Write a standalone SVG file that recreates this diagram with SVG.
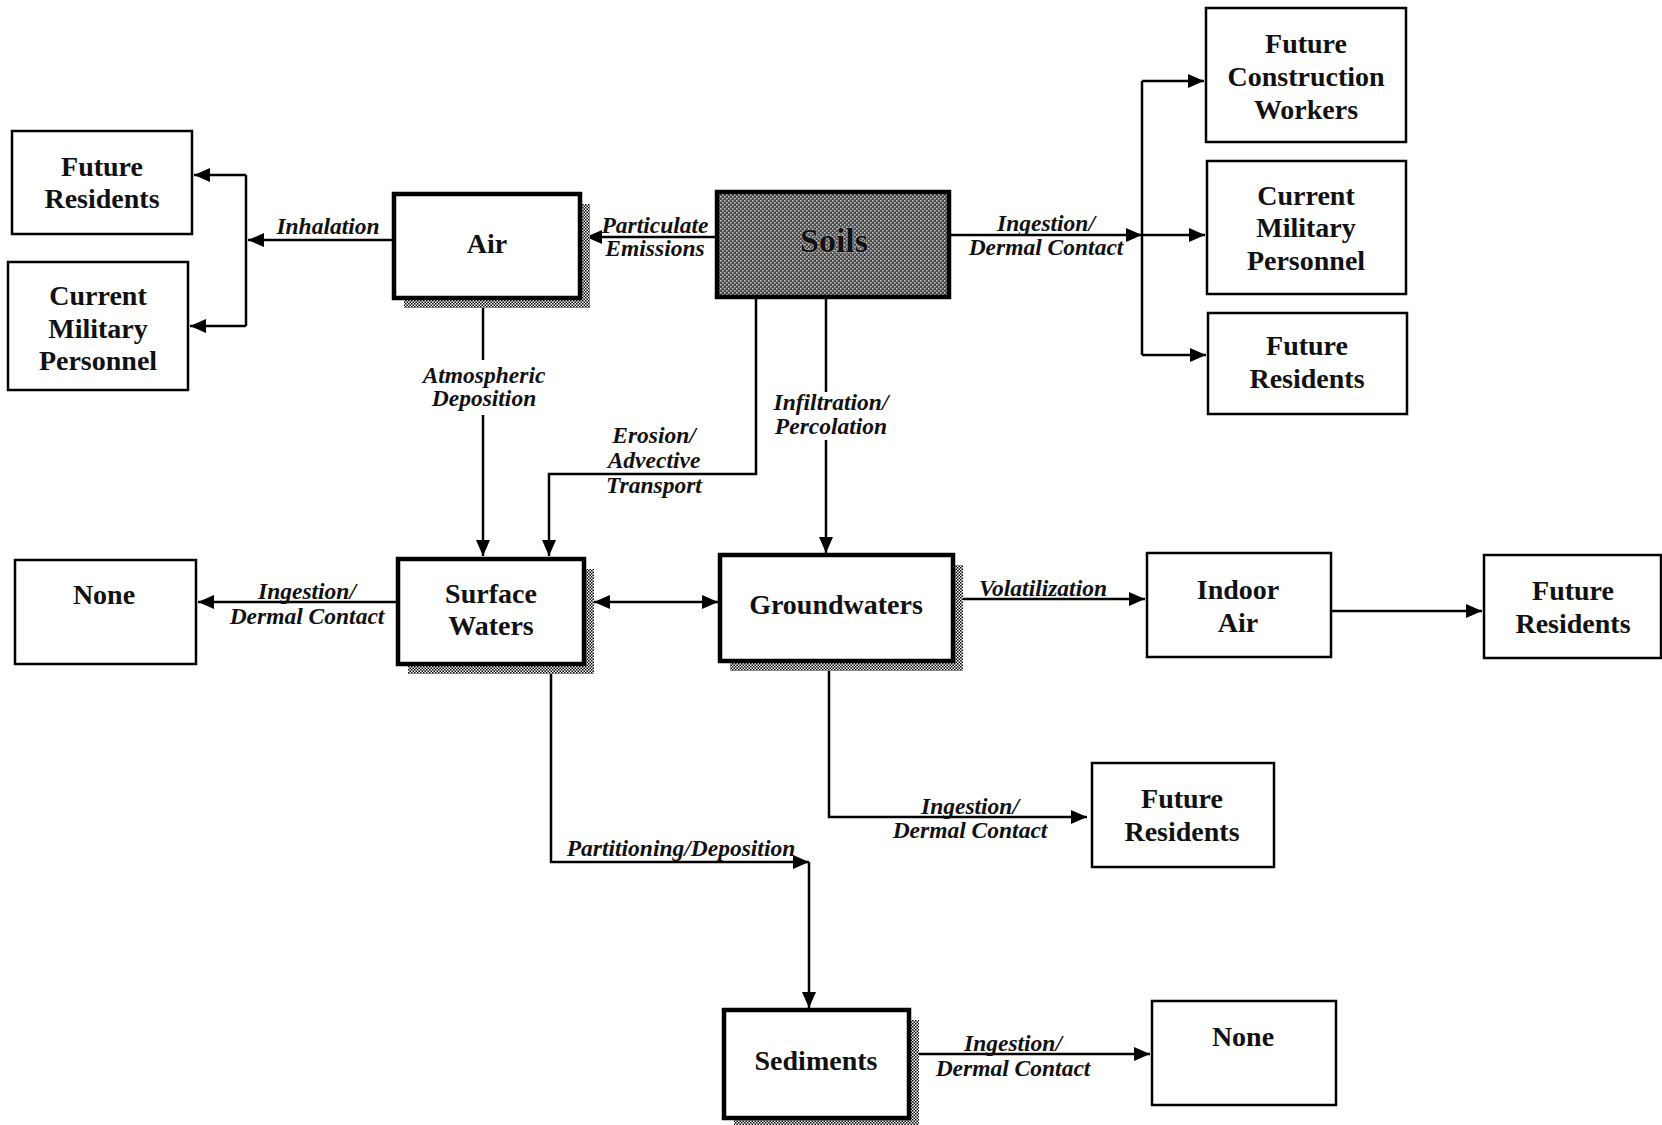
<svg xmlns="http://www.w3.org/2000/svg" width="1662" height="1125" viewBox="0 0 1662 1125">
<defs>
<pattern id="chk" width="3" height="3" patternUnits="userSpaceOnUse">
<rect width="3" height="3" fill="#fff"/>
<rect x="0" y="0" width="1.5" height="1.5" fill="#000"/>
<rect x="1.5" y="1.5" width="1.5" height="1.5" fill="#000"/>
</pattern>
<pattern id="soil" width="4" height="4" patternUnits="userSpaceOnUse">
<rect width="4" height="4" fill="#4a4a4a"/>
<rect x="0" y="0" width="1.5" height="1.5" fill="#ccc"/>
<rect x="2" y="2" width="1.5" height="1.5" fill="#ccc"/>
</pattern>
<marker id="ah" viewBox="0 0 16 14" refX="16" refY="7" markerWidth="16" markerHeight="14" markerUnits="userSpaceOnUse" orient="auto-start-reverse">
<path d="M0,0 L16,7 L0,14 z" fill="#000"/>
</marker>
</defs>
<style>
.box{fill:#fff;stroke:#000;stroke-width:2.5}
.main{fill:#fff;stroke:#000;stroke-width:4.5}
.sh{fill:url(#chk)}
.t{font-family:"Liberation Serif",serif;font-size:28px;font-weight:bold;text-anchor:middle;fill:#111}
.lb{font-family:"Liberation Serif",serif;font-size:23.5px;font-weight:bold;font-style:italic;text-anchor:middle;fill:#111}
.c{fill:none;stroke:#000;stroke-width:2.5}
</style>
<rect width="1662" height="1125" fill="#fff"/>

<g id="connectors">
<path class="c" d="M394,240 H248" marker-end="url(#ah)"/>
<path class="c" d="M246,175 V326"/>
<path class="c" d="M246,175 H194" marker-end="url(#ah)"/>
<path class="c" d="M246,326 H190" marker-end="url(#ah)"/>
<path class="c" d="M717,237 H586" marker-end="url(#ah)"/>
<path class="c" d="M949,235 H1142" marker-end="url(#ah)"/>
<path class="c" d="M1142,81 V355"/>
<path class="c" d="M1142,81 H1204" marker-end="url(#ah)"/>
<path class="c" d="M1142,235 H1205" marker-end="url(#ah)"/>
<path class="c" d="M1142,355 H1206" marker-end="url(#ah)"/>
<path class="c" d="M483,298 V360"/>
<path class="c" d="M483,415 V556" marker-end="url(#ah)"/>
<path class="c" d="M756,297 V474 H549 V556" marker-end="url(#ah)"/>
<path class="c" d="M826,297 V392"/>
<path class="c" d="M826,440 V553" marker-end="url(#ah)"/>
<path class="c" d="M594,602 H718" marker-start="url(#ah)" marker-end="url(#ah)"/>
<path class="c" d="M398,602 H198" marker-end="url(#ah)"/>
<path class="c" d="M963,599 H1145" marker-end="url(#ah)"/>
<path class="c" d="M1331,611 H1482" marker-end="url(#ah)"/>
<path class="c" d="M829,661 V817 H1087" marker-end="url(#ah)"/>
<path class="c" d="M551,664 V862 H809" marker-end="url(#ah)"/>
<path class="c" d="M809,862 V1008" marker-end="url(#ah)"/>
<path class="c" d="M918,1054 H1150" marker-end="url(#ah)"/>
</g>

<g id="labels">
<text class="lb" x="328" y="234">Inhalation</text>
<text class="lb" x="655" y="233">Particulate</text>
<text class="lb" x="655" y="256">Emissions</text>
<text class="lb" x="1046" y="231">Ingestion/</text>
<text class="lb" x="1046" y="255">Dermal Contact</text>
<text class="lb" x="484" y="383">Atmospheric</text>
<text class="lb" x="484" y="406">Deposition</text>
<text class="lb" x="654" y="443">Erosion/</text>
<text class="lb" x="654" y="468">Advective</text>
<text class="lb" x="654" y="493">Transport</text>
<text class="lb" x="831" y="410">Infiltration/</text>
<text class="lb" x="831" y="434">Percolation</text>
<text class="lb" x="307" y="599">Ingestion/</text>
<text class="lb" x="307" y="624">Dermal Contact</text>
<text class="lb" x="1043" y="596">Volatilization</text>
<text class="lb" x="970" y="814">Ingestion/</text>
<text class="lb" x="970" y="838">Dermal Contact</text>
<text class="lb" x="681" y="856">Partitioning/Deposition</text>
<text class="lb" x="1013" y="1051">Ingestion/</text>
<text class="lb" x="1013" y="1076">Dermal Contact</text>
</g>

<g id="future-residents-left">
<rect class="box" x="12" y="131" width="180" height="103"/>
<text class="t" x="102" y="176">Future</text>
<text class="t" x="102" y="208">Residents</text>
</g>
<g id="current-military-left">
<rect class="box" x="8" y="262" width="180" height="128"/>
<text class="t" x="98" y="305">Current</text>
<text class="t" x="98" y="338">Military</text>
<text class="t" x="98" y="370">Personnel</text>
</g>
<g id="air">
<rect class="sh" x="580" y="204" width="10" height="104"/>
<rect class="sh" x="404" y="298" width="186" height="10"/>
<rect class="main" x="394" y="194" width="186" height="104"/>
<text class="t" x="487" y="253">Air</text>
</g>
<g id="soils">
<rect x="717" y="192" width="232" height="105" fill="url(#soil)" stroke="#000" stroke-width="4.5"/>
<text x="834" y="252" font-family="Liberation Serif, serif" font-size="34" font-weight="bold" text-anchor="middle" fill="#111" stroke="#aaa" stroke-width="1.2" paint-order="stroke">Soils</text>
</g>
<g id="future-construction-workers">
<rect class="box" x="1206" y="8" width="200" height="134"/>
<text class="t" x="1306" y="53">Future</text>
<text class="t" x="1306" y="86">Construction</text>
<text class="t" x="1306" y="119">Workers</text>
</g>
<g id="current-military-right">
<rect class="box" x="1207" y="161" width="199" height="133"/>
<text class="t" x="1306" y="205">Current</text>
<text class="t" x="1306" y="237">Military</text>
<text class="t" x="1306" y="270">Personnel</text>
</g>
<g id="future-residents-right">
<rect class="box" x="1208" y="313" width="199" height="101"/>
<text class="t" x="1307" y="355">Future</text>
<text class="t" x="1307" y="388">Residents</text>
</g>
<g id="surface-waters">
<rect class="sh" x="584" y="569" width="10" height="105"/>
<rect class="sh" x="408" y="664" width="186" height="10"/>
<rect class="main" x="398" y="559" width="186" height="105"/>
<text class="t" x="491" y="603">Surface</text>
<text class="t" x="491" y="635">Waters</text>
</g>
<g id="groundwaters">
<rect class="sh" x="953" y="565" width="10" height="106"/>
<rect class="sh" x="730" y="661" width="233" height="10"/>
<rect class="main" x="720" y="555" width="233" height="106"/>
<text class="t" x="836" y="614">Groundwaters</text>
</g>
<g id="none-left">
<rect class="box" x="15" y="560" width="181" height="104"/>
<text class="t" x="104" y="604">None</text>
</g>
<g id="indoor-air">
<rect class="box" x="1147" y="553" width="184" height="104"/>
<text class="t" x="1238" y="599">Indoor</text>
<text class="t" x="1238" y="632">Air</text>
</g>
<g id="future-residents-far-right">
<rect class="box" x="1484" y="555" width="177" height="103"/>
<text class="t" x="1573" y="600">Future</text>
<text class="t" x="1573" y="633">Residents</text>
</g>
<g id="future-residents-gw">
<rect class="box" x="1092" y="763" width="182" height="104"/>
<text class="t" x="1182" y="808">Future</text>
<text class="t" x="1182" y="841">Residents</text>
</g>
<g id="sediments">
<rect class="sh" x="909" y="1020" width="10" height="105"/>
<rect class="sh" x="734" y="1118" width="185" height="10"/>
<rect class="main" x="724" y="1010" width="185" height="108"/>
<text class="t" x="816" y="1070">Sediments</text>
</g>
<g id="none-bottom">
<rect class="box" x="1152" y="1001" width="184" height="104"/>
<text class="t" x="1243" y="1046">None</text>
</g>
</svg>
